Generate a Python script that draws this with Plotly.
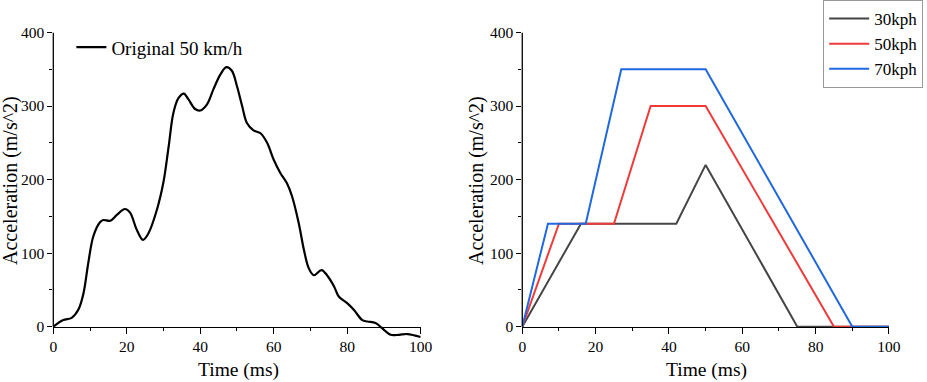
import plotly.graph_objects as go

# Left chart: original 50 km/h pulse
orig_t = [0, 2.7, 5, 6.8, 8.2, 9.5, 10.9, 12.7, 13.6, 15.5, 17.3, 19.5, 20.9, 22.7, 24.4, 25.9,
          28.2, 30, 31.4, 32.7, 34.1, 35.5, 36.8, 38.6, 40, 41.8, 43.6, 45.5, 47.1, 48.6, 50,
          51.4, 52.7, 54.5, 56.4, 58.2, 60, 61.8, 63.6, 65, 66.8, 68.2, 69.5, 70.9, 73, 74.5,
          76.4, 77.7, 80, 81.8, 84.1, 85.5, 87.7, 89.5, 91.8, 94.1, 96.4, 100]
orig_a = [0, 9, 12, 23, 45, 86, 123, 142, 145, 144, 152, 160, 155, 132, 118, 127,
          159, 197, 245, 291, 311, 317, 309, 296, 294, 302, 323, 343, 353, 348, 327,
          300, 277, 267, 263, 250, 227, 209, 195, 177, 141, 105, 80, 70, 77, 70,
          55, 41, 32, 23, 9, 7, 5, -2, -11, -11, -10, -14]

# Right chart: simplified pulses
t30 = [0, 16, 42, 50, 75, 100]
a30 = [0, 140, 140, 220, 0, 0]
t50 = [0, 10, 25, 35, 50, 85, 100]
a50 = [0, 140, 140, 300, 300, 0, 0]
t70 = [0, 7, 17.3, 27, 50, 90, 100]
a70 = [0, 140, 140, 350, 350, 0, 0]

FONT = "Liberation Serif"
C30, C50, C70 = "#454545", "#F03A3A", "#1F68E0"

fig = go.Figure()
fig.add_trace(go.Scatter(x=orig_t, y=orig_a, mode="lines", name="Original 50 km/h",
                         line=dict(color="black", width=2.2, shape="spline", smoothing=1.0),
                         xaxis="x", yaxis="y", legend="legend", showlegend=True))
fig.add_trace(go.Scatter(x=t30, y=a30, mode="lines", name="30kph", showlegend=True,
                         line=dict(color=C30, width=2), xaxis="x2", yaxis="y2", legend="legend2"))
fig.add_trace(go.Scatter(x=t50, y=a50, mode="lines", name="50kph", showlegend=True,
                         line=dict(color=C50, width=2), xaxis="x2", yaxis="y2", legend="legend2"))
fig.add_trace(go.Scatter(x=t70, y=a70, mode="lines", name="70kph", showlegend=True,
                         line=dict(color=C70, width=2), xaxis="x2", yaxis="y2", legend="legend2"))

YDOM = [0.1063, 0.9149]
XPOS = 0.1448

def xax(dom):
    return dict(domain=dom, range=[0, 100], anchor="free", position=XPOS,
                showline=True, linecolor="black", linewidth=1.3, showgrid=False, zeroline=False,
                ticks="outside", ticklen=6, tickwidth=1.3, tickcolor="black",
                tick0=0, dtick=20, minor=dict(dtick=10, ticks="outside", ticklen=3, tickwidth=1.3, tickcolor="black"),
                tickfont=dict(family=FONT, size=15.5, color="black"), automargin=False)

def yax(anchor):
    return dict(domain=YDOM, range=[-20, 400], anchor=anchor,
                showline=False, showgrid=False, zeroline=False,
                ticks="outside", ticklen=5, tickwidth=1.3, tickcolor="black",
                tick0=0, dtick=100, minor=dict(dtick=50, ticks="outside", ticklen=3, tickwidth=1.3, tickcolor="black"),
                tickfont=dict(family=FONT, size=15.5, color="black"), automargin=False)

def ann(text, x, y, size, angle=0):
    return dict(text=text, x=x / 927, y=1 - y / 382, xref="paper", yref="paper",
                xanchor="center", yanchor="middle", textangle=angle, showarrow=False,
                font=dict(family=FONT, size=size, color="black"))

fig.update_layout(
    width=927, height=382, margin=dict(l=0, r=0, t=0, b=0),
    font=dict(family=FONT, color="black"),
    paper_bgcolor="white", plot_bgcolor="white", showlegend=True,
    xaxis=xax([0.0575, 0.4538]), yaxis=yax("x"),
    xaxis2=xax([0.5634, 0.9590]), yaxis2=yax("x2"),
    legend=dict(x=0.077, y=0.926, xanchor="left", yanchor="top", bgcolor="rgba(0,0,0,0)",
                borderwidth=0, font=dict(family=FONT, size=19, color="black")),
    legend2=dict(x=0.888, y=1.0, xanchor="left", yanchor="top", bgcolor="white",
                 bordercolor="#999999", borderwidth=1, tracegroupgap=0, itemwidth=40,
                 font=dict(family=FONT, size=17, color="black")),
    shapes=[
        dict(type="line", xref="x domain", yref="y", x0=0, x1=0, y0=0, y1=400,
             line=dict(color="black", width=1.3)),
        dict(type="line", xref="x2 domain", yref="y2", x0=0, x1=0, y0=0, y1=400,
             line=dict(color="black", width=1.3)),
    ],
    annotations=[
        ann("Acceleration (m/s^2)", 10, 181, 20, -90),
        ann("Acceleration (m/s^2)", 476, 181, 20, -90),
        ann("Time (ms)", 238, 370, 19.5),
        ann("Time (ms)", 706, 370, 19.5),
    ],
)

fig.write_html("out.html", config={"displayModeBar": False},
               post_script="document.body.style.margin='0px';")
